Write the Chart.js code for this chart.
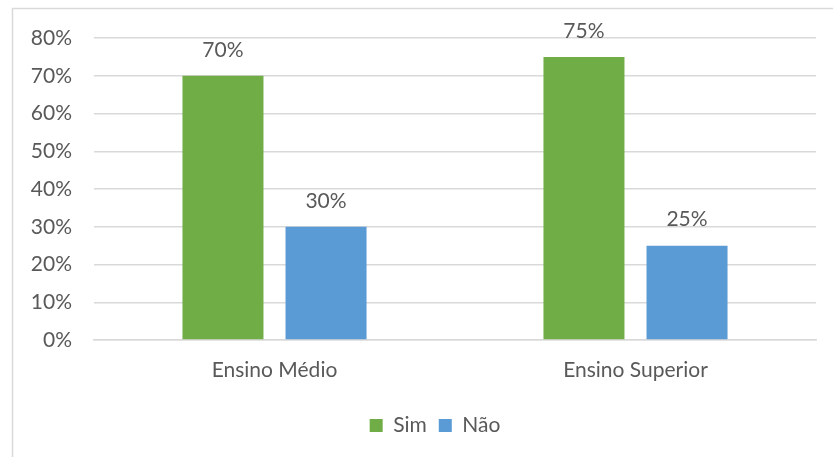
<!DOCTYPE html>
<html>
<head>
<meta charset="utf-8">
<script src="https://cdn.jsdelivr.net/npm/chart.js@4"></script>
<style>
  html, body { margin: 0; padding: 0; background: #fff; }
  #wrap { width: 833px; height: 457px; position: relative; }
</style>
</head>
<body>
<div id="wrap"><canvas id="chart" width="833" height="457"></canvas></div>
<script>
const categories = ['Ensino Médio', 'Ensino Superior'];
const simValues = [70, 75];
const naoValues = [30, 25];
const yTicks = [0, 10, 20, 30, 40, 50, 60, 70, 80];

const textColor = '#595959';
const fontFamily = 'Lato, "Liberation Sans", sans-serif';
const fontSize = 21;

// labels on top of bars + outer frame (only top and left edges show)
const extras = {
    id: 'extras',
    afterLayout(chart) {
        // legend sits centred under the plot area, not the whole canvas
        chart.legend.left += 27;
        chart.legend.right += 27;
    },
    beforeDraw(chart) {
        const ctx = chart.ctx;
        ctx.save();
        ctx.fillStyle = '#fff';
        ctx.fillRect(0, 0, chart.width, chart.height);
        ctx.strokeStyle = '#d9d9d9';
        ctx.lineWidth = 1.5;
        ctx.beginPath();
        ctx.moveTo(12.5, chart.height);
        ctx.lineTo(12.5, 8.5);
        ctx.lineTo(chart.width, 8.5);
        ctx.stroke();
        ctx.restore();
    },
    afterDatasetsDraw(chart) {
        const ctx = chart.ctx;
        ctx.save();
        ctx.font = fontSize + 'px ' + fontFamily;
        ctx.fillStyle = textColor;
        ctx.textAlign = 'center';
        ctx.textBaseline = 'middle';
        chart.data.datasets.forEach((ds, i) => {
            chart.getDatasetMeta(i).data.forEach((bar, j) => {
                ctx.fillText(ds.data[j] + '%', bar.x, bar.y - 26);
            });
        });
        ctx.restore();
    }
};

new Chart(document.getElementById('chart'), {
    type: 'bar',
    data: {
        labels: categories,
        datasets: [
            { label: 'Sim', data: simValues, backgroundColor: '#70ad47' },
            { label: 'Não', data: naoValues, backgroundColor: '#5b9bd5' }
        ]
    },
    options: {
        responsive: false,
        animation: false,
        categoryPercentage: 0.571,
        barPercentage: 0.786,
        layout: { padding: { top: 38, right: 17, bottom: 11, left: 0 } },
        plugins: {
            legend: {
                position: 'bottom',
                labels: {
                    color: textColor,
                    font: { size: fontSize, family: fontFamily },
                    boxWidth: 13,
                    boxHeight: 13,
                    padding: 12
                }
            },
            tooltip: { enabled: false }
        },
        scales: {
            y: {
                min: 0,
                max: 80,
                afterFit: s => { s.width = 94; },
                afterBuildTicks: s => { s.ticks = yTicks.map(v => ({ value: v })); },
                ticks: {
                    color: textColor,
                    font: { size: fontSize, family: fontFamily },
                    padding: 22,
                    callback: v => v + '%'
                },
                grid: { color: '#d9d9d9', lineWidth: 1.5, drawTicks: false },
                border: { display: false }
            },
            x: {
                afterFit: s => { s.height = 63; },
                ticks: {
                    color: textColor,
                    font: { size: fontSize, family: fontFamily },
                    padding: 18
                },
                grid: { display: false, drawTicks: false },
                border: { color: '#d9d9d9', width: 1.5 }
            }
        }
    },
    plugins: [extras]
});
</script>
</body>
</html>
